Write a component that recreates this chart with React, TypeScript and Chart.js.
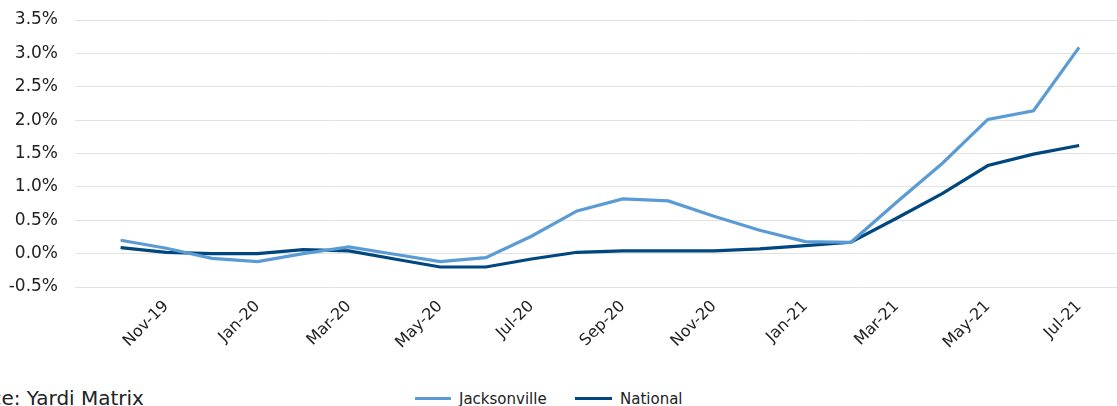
import React, { useEffect, useRef } from "react";
import { Chart, registerables } from "chart.js";

Chart.register(...registerables);

const months = [
  "Oct-19", "Nov-19", "Dec-19", "Jan-20", "Feb-20", "Mar-20", "Apr-20", "May-20",
  "Jun-20", "Jul-20", "Aug-20", "Sep-20", "Oct-20", "Nov-20", "Dec-20", "Jan-21",
  "Feb-21", "Mar-21", "Apr-21", "May-21", "Jun-21", "Jul-21",
];

const jacksonville = [
  0.2, 0.08, -0.07, -0.12, 0.0, 0.1, -0.01, -0.12, -0.06, 0.26, 0.64, 0.82,
  0.79, 0.56, 0.35, 0.18, 0.17, 0.77, 1.35, 2.01, 2.14, 3.09,
];

const national = [
  0.09, 0.02, 0.0, 0.0, 0.06, 0.04, -0.08, -0.2, -0.2, -0.08, 0.02, 0.04,
  0.04, 0.04, 0.07, 0.12, 0.17, 0.53, 0.9, 1.32, 1.49, 1.62,
];

const yTicks = [-0.5, 0, 0.5, 1, 1.5, 2, 2.5, 3, 3.5];
const tickEvery = 2;
const firstTick = 1;

const LIGHT = "#5B9BD5";
const DARK = "#00467F";
const FONT = "'DejaVu Sans', sans-serif";

export default function App() {
  const ref = useRef<HTMLCanvasElement | null>(null);

  useEffect(() => {
    document.body.style.margin = "0";
    const canvas = ref.current;
    if (!canvas) return;
    const chart = new Chart(canvas, {
      type: "line",
      data: {
        datasets: [
          {
            label: "Jacksonville",
            data: jacksonville.map((v, i) => ({ x: i, y: v })),
            borderColor: LIGHT,
            backgroundColor: LIGHT,
            borderWidth: 3.2,
            pointRadius: 0,
            tension: 0,
          },
          {
            label: "National",
            data: national.map((v, i) => ({ x: i, y: v })),
            borderColor: DARK,
            backgroundColor: DARK,
            borderWidth: 3.2,
            pointRadius: 0,
            tension: 0,
          },
        ],
      },
      options: {
        responsive: false,
        animation: false,
        devicePixelRatio: 1,
        layout: { padding: { top: 20, left: 0, right: 0, bottom: 0 } },
        plugins: { legend: { display: false }, tooltip: { enabled: false } },
        scales: {
          x: {
            type: "linear",
            min: -1,
            max: 21.83,
            grid: { display: false, drawTicks: false },
            border: { display: false },
            afterBuildTicks: (s: any) => {
              const t: any[] = [];
              for (let i = firstTick; i < months.length; i += tickEvery) t.push({ value: i });
              s.ticks = t;
            },
            afterFit: (s: any) => {
              s.height = 88;
              s.paddingLeft = 0;
              s.paddingRight = 0;
            },
            ticks: {
              autoSkip: false,
              minRotation: 45,
              maxRotation: 45,
              padding: 10,
              color: "#222",
              font: { family: FONT, size: 16 },
              callback: (v: any) => months[v as number] ?? "",
            },
          },
          y: {
            min: -0.5,
            max: 3.5,
            afterBuildTicks: (s: any) => {
              s.ticks = yTicks.map((v) => ({ value: v }));
            },
            afterFit: (s: any) => {
              s.width = 75;
              s.paddingTop = 0;
              s.paddingBottom = 0;
            },
            grid: { color: "#e2e2e2", lineWidth: 1, drawTicks: false },
            border: { display: false },
            ticks: {
              padding: 17,
              color: "#222",
              font: { family: FONT, size: 17 },
              callback: (v: any) => Number(v).toFixed(1) + "%",
            },
          },
        },
      },
    });
    return () => chart.destroy();
  }, []);

  const legendText: React.CSSProperties = {
    position: "absolute",
    top: 390,
    fontFamily: FONT,
    fontSize: 15,
    color: "#222",
    lineHeight: "18px",
    whiteSpace: "nowrap",
  };

  return (
    <div
      style={{
        position: "absolute",
        left: 0,
        top: 0,
        width: 1117,
        height: 406,
        overflow: "hidden",
        background: "#fff",
      }}
    >
      <canvas
        ref={ref}
        width={1117}
        height={375}
        style={{ position: "absolute", left: 0, top: 0, width: 1117, height: 375 }}
      />
      <div
        style={{
          position: "absolute",
          left: -55,
          top: 386,
          fontFamily: FONT,
          fontSize: 20,
          color: "#222",
          lineHeight: "24px",
          whiteSpace: "nowrap",
        }}
      >
        Source: Yardi Matrix
      </div>
      <div style={{ position: "absolute", left: 415, top: 397, width: 36, height: 3, background: LIGHT }} />
      <div style={{ ...legendText, left: 459 }}>Jacksonville</div>
      <div style={{ position: "absolute", left: 575, top: 397, width: 37, height: 3, background: DARK }} />
      <div style={{ ...legendText, left: 620 }}>National</div>
    </div>
  );
}
